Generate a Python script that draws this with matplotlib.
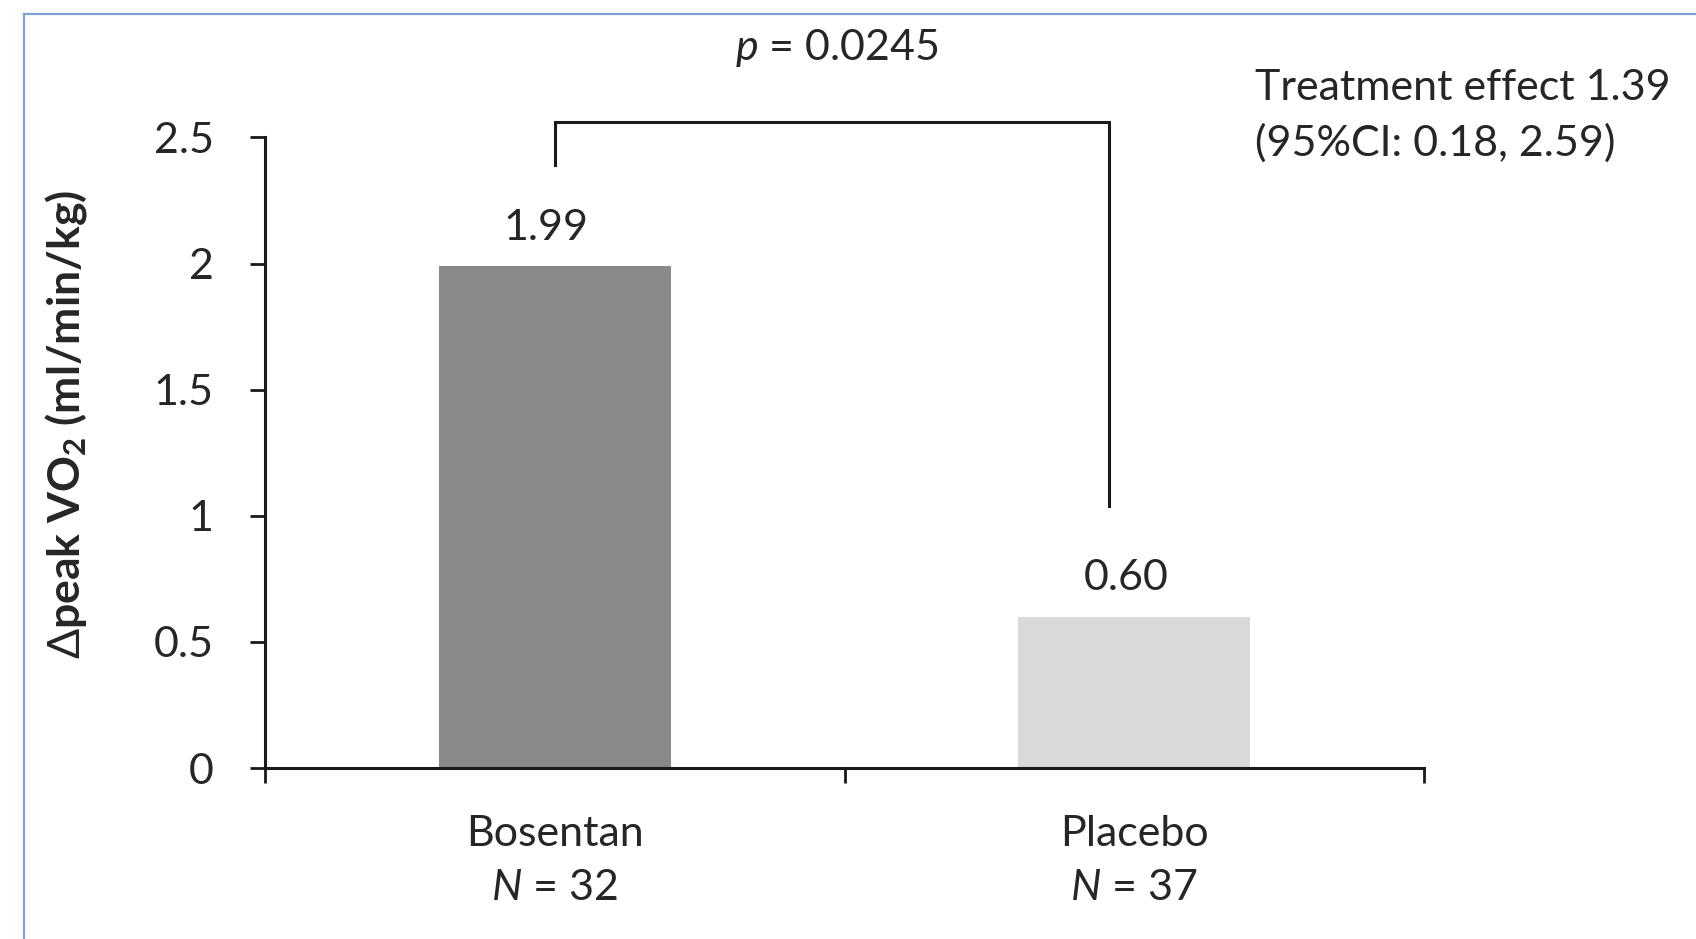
#!/usr/bin/python3

import matplotlib
matplotlib.use('Agg')
import matplotlib.pyplot as plt
from matplotlib.lines import Line2D

################################################
# Data

groups = ['Bosentan', 'Placebo']
counts = [32, 37]
change = [1.99, 0.60]
value_labels = ['1.99', '0.60']
bar_colors = ['#898989', '#d9d9d9']

p_value = '0.0245'
effect = '1.39'
ci_low, ci_high = '0.18', '2.59'

# bracket ends (data units)
bracket_left = 2.39
bracket_top = 2.563
bracket_right = 1.04
bracket_right_x = 0.957

yticks = [0, 0.5, 1, 1.5, 2, 2.5]
ytick_labels = ['0', '0.5', '1', '1.5', '2', '2.5']

################################################
# Style

plt.rcParams['font.family'] = ['Lato', 'DejaVu Sans']
plt.rcParams['mathtext.fontset'] = 'custom'
plt.rcParams['mathtext.rm'] = 'Lato'
plt.rcParams['mathtext.it'] = 'Lato:italic'
plt.rcParams['mathtext.bf'] = 'Lato:bold'

ink = '#262626'
fs = 31

fig = plt.figure(figsize=(16.96, 9.39), dpi=100)
ax = fig.add_axes([0.15625, 0.1821, 0.6834, 0.6715])

x = list(range(len(groups)))
ax.bar(x, change, width=0.4, color=bar_colors, zorder=2)

for xi, v, lab in zip(x, change, value_labels):
	ax.annotate(lab, (xi, v), xytext=(-6, 14), textcoords='offset points',
		ha='center', va='bottom', fontsize=fs, color=ink)

ax.set_xlim(-0.5, 1.5)
ax.set_ylim(0, 2.5)

# category boundaries as major ticks, labels on minor ticks
ax.set_xticks([-0.5, 0.5, 1.5])
ax.set_xticklabels(['', '', ''])
ax.set_xticks(x, minor=True)
ax.set_xticklabels(['{}\n$N$ = {}'.format(g, n) for g, n in zip(groups, counts)],
	minor=True, fontsize=fs, color=ink)
for t in ax.get_xticklabels(minor=True):
	t.set_linespacing(1.5)
ax.tick_params(axis='x', which='major', direction='out', length=11, width=2, color='#1a1a1a')
ax.tick_params(axis='x', which='minor', length=0, pad=34)

ax.set_yticks(yticks)
ax.set_yticklabels(ytick_labels, fontsize=fs, color=ink)
ax.tick_params(axis='y', direction='out', length=11, width=2, color='#1a1a1a', pad=26)

for s in ['top', 'right']:
	ax.spines[s].set_visible(False)
for s in ['left', 'bottom']:
	ax.spines[s].set_linewidth(2.2)
	ax.spines[s].set_color('#1a1a1a')

ax.set_ylabel(r'$\Delta$peak VO$\mathbf{_2}$ (ml/min/kg)', fontsize=32, fontweight='bold', color=ink)
ax.yaxis.set_label_coords(-0.152, 0.545)

################################################
# Significance bracket and annotations

ax.plot([0, 0, bracket_right_x, bracket_right_x],
	[bracket_left, bracket_top, bracket_top, bracket_right],
	color='#1a1a1a', lw=2.2, clip_on=False, solid_joinstyle='miter')
ax.text(0.486, 2.855, '$p$ = ' + p_value, ha='center', va='center', fontsize=fs, color=ink)

fig.text(1255 / 1696, 1 - 116 / 939,
	'Treatment effect {}\n(95%CI: {}, {})'.format(effect, ci_low, ci_high),
	ha='left', va='center', fontsize=fs, color=ink, linespacing=1.5)

# blue frame around the figure (runs off the right and bottom edges)
frame = '#7fa3d6'
fig.add_artist(Line2D([23.5 / 1696, 23.5 / 1696], [0, 1 - 13.5 / 939], color=frame, lw=1.6))
fig.add_artist(Line2D([23.5 / 1696, 1], [1 - 13.5 / 939, 1 - 13.5 / 939], color=frame, lw=1.6))

fig.savefig('out.png', dpi=100)
